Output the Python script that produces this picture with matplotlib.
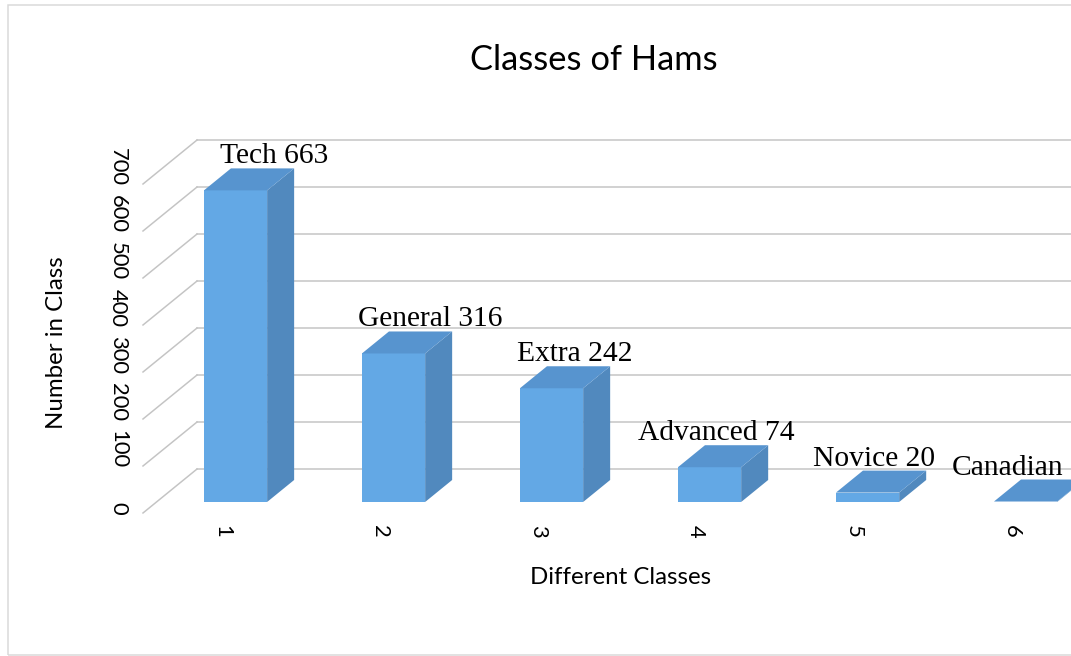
import matplotlib
matplotlib.use("Agg")
import matplotlib.pyplot as plt
from matplotlib.patches import Polygon, Rectangle

# data
categories = ["1", "2", "3", "4", "5", "6"]
class_names = ["Tech", "General", "Extra", "Advanced", "Novice", "Canadian"]
counts = [663, 316, 242, 74, 20, 1]
point_labels = ["Tech 663", "General 316", "Extra 242", "Advanced 74", "Novice 20", "Canadian"]
y_ticks = [0, 100, 200, 300, 400, 500, 600, 700]

# look
FRONT = "#63A8E5"
SIDE = "#5189BE"
TOP = "#5794CF"
GRID = "#C4C4C4"
DEPTH_X = 0.342   # category units for the full floor depth
DEPTH_Y = 93.6    # value units for the full floor depth
BAR_W = 0.4
label_nudge = [12, 10, -4, -20, -21, -45]  # px, excel puts them a bit off centre

fig = plt.figure(figsize=(1071 / 72, 656 / 72), dpi=72)
ax = fig.add_axes([0, 0, 1, 1])
ax.set_xlim(-0.405, 6.373)
ax.set_ylim(-304.3, 1091.5)
ax.axis("off")

# back wall gridlines + diagonal side wall lines
for v in y_ticks:
    ax.plot([0.5, 0.5 + DEPTH_X], [v, v + DEPTH_Y], color=GRID, lw=1.5, zorder=1)
    ax.plot([0.5 + DEPTH_X, 7.5], [v + DEPTH_Y, v + DEPTH_Y], color=GRID, lw=1.5, zorder=1)
    ax.annotate(str(v), xy=(0.5, v), xytext=(-25, -2), textcoords="offset points",
                rotation=-90, ha="center", va="bottom", fontsize=22, family="Lato")

# bars, drawn as front / side / top faces
dx = 0.5 * DEPTH_X
dy = 0.5 * DEPTH_Y
for i, v in enumerate(counts):
    c = i + 1 + 0.25 * DEPTH_X
    x0 = c - BAR_W / 2
    x1 = c + BAR_W / 2
    y0 = 0.25 * DEPTH_Y
    y1 = y0 + v
    ax.add_patch(Rectangle((x0, y0), BAR_W, v, facecolor=FRONT, edgecolor="none", zorder=3))
    ax.add_patch(Polygon([(x1, y0), (x1 + dx, y0 + dy), (x1 + dx, y1 + dy), (x1, y1)],
                         facecolor=SIDE, edgecolor="none", zorder=3))
    ax.add_patch(Polygon([(x0, y1), (x1, y1), (x1 + dx, y1 + dy), (x0 + dx, y1 + dy)],
                         facecolor=TOP, edgecolor="none", zorder=3))
    ax.annotate(point_labels[i], xy=(c + dx, y1 + dy), xytext=(label_nudge[i], 5),
                textcoords="offset points", ha="center", va="baseline",
                fontsize=29.5, family="Liberation Serif", zorder=4)
    ax.annotate(categories[i], xy=(i + 1, 0), xytext=(0, -12), textcoords="offset points",
                rotation=-90, ha="center", va="top", fontsize=22, family="Lato")

fig.text(594 / 1071, 1 - 60 / 656, "Classes of Hams", ha="center", va="center",
         fontsize=34.5, family="Lato")
fig.text(57 / 1071, 1 - 343 / 656, "Number in Class", rotation=90, ha="center",
         va="center", fontsize=24, family="Lato")
fig.text(621 / 1071, 1 - 577 / 656, "Different Classes", ha="center", va="center",
         fontsize=24, family="Lato")

# chart area border
fig.add_artist(Rectangle((8 / 1071, 1 / 656), 2, 650 / 656, transform=fig.transFigure,
                         fill=False, edgecolor="#D9D9D9", lw=1.5))

fig.savefig("out.png", dpi=72)
